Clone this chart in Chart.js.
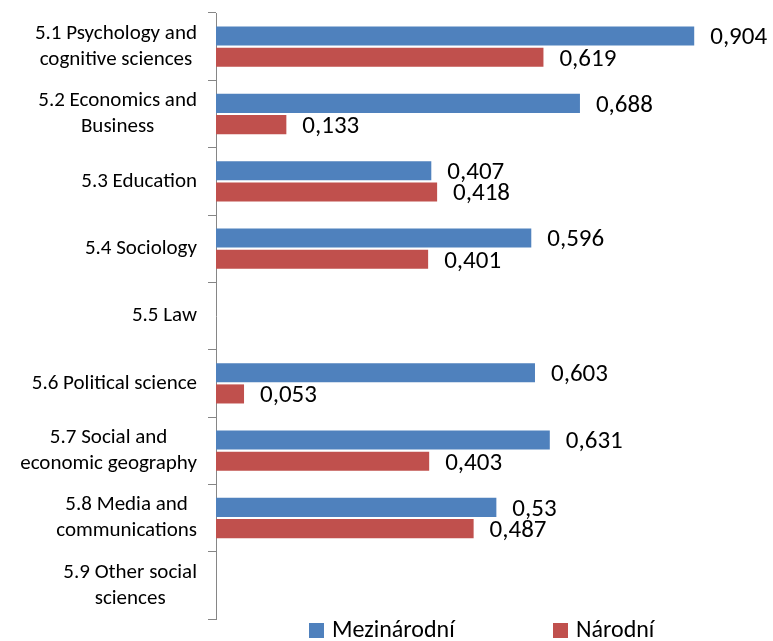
<!DOCTYPE html>
<html>
<head>
<meta charset="utf-8">
<script src="https://cdn.jsdelivr.net/npm/chart.js@4/dist/chart.umd.min.js"></script>
<style>
  html, body { margin: 0; padding: 0; background: #fff; overflow: hidden; }
  #wrap { position: relative; width: 773px; height: 641px; }
  #legend { position: absolute; left: 0; top: 615px; width: 773px; height: 26px;
            font-family: Carlito, Lato, sans-serif; font-size: 24px; color: #000; }
  .item { position: absolute; top: 0; line-height: 28px; white-space: nowrap; }
  .sw { display: inline-block; width: 15px; height: 15px; margin-right: 8px; vertical-align: -1px; }
</style>
</head>
<body>
<div id="wrap">
  <canvas id="c" width="773" height="641"></canvas>
  <div id="legend"></div>
</div>
<script>
const categories = [
  ["5.1 Psychology and", "cognitive sciences"],
  ["5.2 Economics and", "Business"],
  ["5.3 Education"],
  ["5.4 Sociology"],
  ["5.5 Law"],
  ["5.6 Political science"],
  ["5.7 Social and", "economic geography"],
  ["5.8 Media and", "communications"],
  ["5.9 Other social", "sciences"]
];
const seriesNames = ["Mezinárodní", "Národní"];
const mezinarodni = [0.904, 0.688, 0.407, 0.596, null, 0.603, 0.631, 0.53, null];
const narodni = [0.619, 0.133, 0.418, 0.401, null, 0.053, 0.403, 0.487, null];
const colors = ["#4F81BD", "#C0504D"];

const FONT = "Carlito, Lato, sans-serif";

function fmt(v) { return String(v).replace(".", ","); }

const catLabelPlugin = {
  id: "catLabels",
  afterDraw(chart) {
    const ctx = chart.ctx;
    const y = chart.scales.y;
    ctx.save();
    ctx.font = "21px " + FONT;
    ctx.fillStyle = "#000";
    ctx.textBaseline = "middle";
    ctx.textAlign = "center";
    const rightEdge = y.right - 19;
    const lh = 26;
    categories.forEach((lines, i) => {
      const cy = y.getPixelForTick(i);
      const w = Math.max(...lines.map(l => ctx.measureText(l).width));
      const cx = rightEdge - w / 2;
      const y0 = cy - (lines.length - 1) * lh / 2;
      lines.forEach((l, j) => ctx.fillText(l, cx, y0 + j * lh));
    });
    ctx.restore();
  }
};

const valueLabelPlugin = {
  id: "valueLabels",
  afterDatasetsDraw(chart) {
    const ctx = chart.ctx;
    ctx.save();
    ctx.font = "25px " + FONT;
    ctx.fillStyle = "#000";
    ctx.textBaseline = "middle";
    ctx.textAlign = "left";
    chart.data.datasets.forEach((ds, di) => {
      const meta = chart.getDatasetMeta(di);
      meta.data.forEach((bar, i) => {
        const v = ds.data[i];
        if (v === null || v === undefined) return;
        ctx.fillText(fmt(v), bar.x + 16, bar.y + 2);
      });
    });
    ctx.restore();
  }
};

const chart = new Chart(document.getElementById("c"), {
  type: "bar",
  data: {
    labels: categories.map(c => c.join(" ")),
    datasets: [
      { label: seriesNames[0], data: mezinarodni, backgroundColor: colors[0] },
      { label: seriesNames[1], data: narodni, backgroundColor: colors[1] }
    ]
  },
  options: {
    indexAxis: "y",
    responsive: false,
    animation: false,
    categoryPercentage: 0.63,
    barPercentage: 0.9,
    layout: { padding: { top: 13, bottom: 22, right: 28, left: 0 } },
    plugins: { legend: { display: false }, tooltip: { enabled: false } },
    scales: {
      x: { display: false, min: 0, max: 1 },
      y: {
        grid: { offset: true, drawOnChartArea: false, drawTicks: true, tickLength: 8, color: "#868686", lineWidth: 1 },
        border: { display: true, color: "#868686", width: 1 },
        ticks: { display: false },
        afterFit(scale) { scale.width = 216; }
      }
    }
  },
  plugins: [catLabelPlugin, valueLabelPlugin]
});

const legend = document.getElementById("legend");
const legendLeft = [309, 553];
seriesNames.forEach((n, i) => {
  const d = document.createElement("div");
  d.className = "item";
  d.style.left = legendLeft[i] + "px";
  const s = document.createElement("span");
  s.className = "sw";
  s.style.background = colors[i];
  d.appendChild(s);
  d.appendChild(document.createTextNode(n));
  legend.appendChild(d);
});
</script>
</body>
</html>
